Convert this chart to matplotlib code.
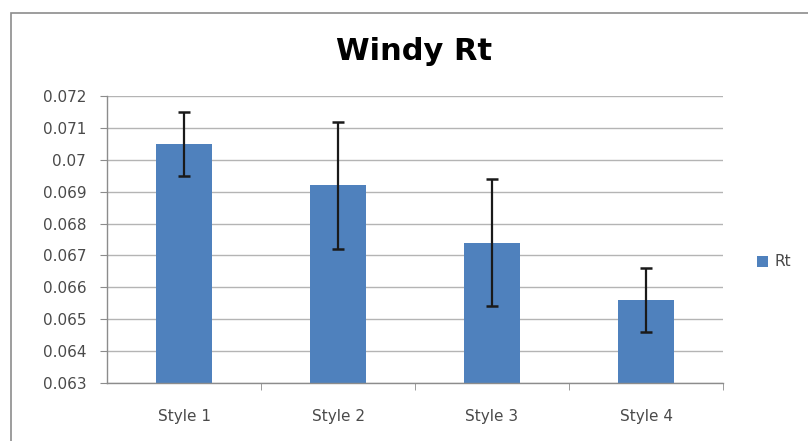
import matplotlib
matplotlib.use("Agg")
import matplotlib.pyplot as plt
from matplotlib.patches import Rectangle

categories = ["Style 1", "Style 2", "Style 3", "Style 4"]
rt_values = [0.0705, 0.0692, 0.0674, 0.0656]
rt_errors = [0.001, 0.002, 0.002, 0.001]
y_ticks = [0.063, 0.064, 0.065, 0.066, 0.067, 0.068, 0.069, 0.07, 0.071, 0.072]
y_tick_labels = ["0.063", "0.064", "0.065", "0.066", "0.067", "0.068", "0.069", "0.07", "0.071", "0.072"]

W, H = 808, 441
fig = plt.figure(figsize=(W / 100, H / 100), dpi=100)
fig.patch.set_facecolor("white")

# chart frame
fig.patches.append(Rectangle((11 / W, -0.05), 1.2, 1.05 - 13 / H,
                             transform=fig.transFigure, fill=False,
                             edgecolor="#8c8c8c", linewidth=1.2))

left, right, top, bottom = 107, 723, 96, 383
ax = fig.add_axes([left / W, 1 - bottom / H, (right - left) / W, (bottom - top) / H])

font = "DejaVu Sans"
tick_color = "#4a4a4a"
x = list(range(len(categories)))
ax.bar(x, rt_values, width=0.37, color="#4F81BD", label="Rt", zorder=2)
ax.errorbar(x, rt_values, yerr=rt_errors, fmt="none", ecolor="#1a1a1a",
            elinewidth=1.6, capsize=4, capthick=1.8, zorder=3)

ax.set_ylim(0.063, 0.072)
ax.set_xlim(-0.5, len(categories) - 0.5)
ax.set_yticks(y_ticks)
ax.set_yticklabels(y_tick_labels, fontsize=11, color=tick_color, fontfamily=font)
ax.set_xticks(x)
ax.set_xticklabels(categories, fontsize=11, color=tick_color, fontfamily=font)
ax.yaxis.grid(True, color="#b4b4b4", linewidth=1.0, zorder=0)
ax.set_axisbelow(True)

for s in ["top", "right"]:
    ax.spines[s].set_visible(False)
for s in ["left", "bottom"]:
    ax.spines[s].set_color("#8c8c8c")
    ax.spines[s].set_linewidth(1.0)

ax.tick_params(axis="y", direction="out", length=5, color="#8c8c8c", pad=10)
ax.tick_params(axis="x", which="major", length=0, pad=19)
ax.set_xticks([i + 0.5 for i in x], minor=True)
ax.tick_params(axis="x", which="minor", direction="out", length=5, color="#8c8c8c")

fig.text(414 / W, 1 - 60 / H, "Windy Rt", ha="center", va="baseline",
         fontsize=22, fontweight="bold", fontfamily=font, color="black")

leg = fig.legend(loc="center left", bbox_to_anchor=(743 / W, 1 - 262 / H),
                 frameon=False, handlelength=0.75, handleheight=0.75,
                 handletextpad=0.4, prop={"family": font, "size": 11})
for t in leg.get_texts():
    t.set_color(tick_color)

fig.savefig("out.png", dpi=100, facecolor="white")
